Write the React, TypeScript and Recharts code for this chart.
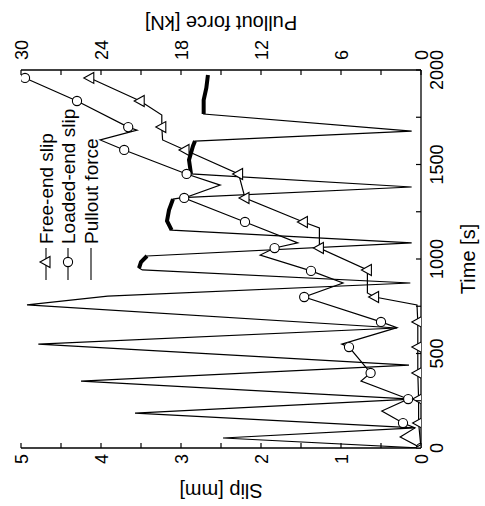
import React from 'react';
import { LineChart, Line, XAxis, YAxis } from 'recharts';

const FONT = '"Liberation Sans", Arial, Helvetica, sans-serif';
const TICK = 5;

// pullout force [kN] against time [s]
const forceTime = [0, 53, 106, 185, 259, 354, 439, 550, 635, 757, 804, 873, 942, 952, 984, 1016, 1085, 1153, 1201, 1259, 1317, 1325, 1381, 1450, 1524, 1598, 1624, 1677, 1767, 1841, 1905, 1973];
const forceKN = [0, 14.85, 0.45, 21.45, 0.7, 25.5, 0.9, 28.7, 1.8, 29.55, 23.5, 0.8, 20.9, 21.15, 21.0, 20.55, 0.7, 18.7, 19.05, 18.9, 18.6, 17.9, 0.7, 17.25, 17.4, 17.1, 16.95, 0.7, 16.3, 16.3, 16.1, 15.98];
// 1 = point on a sliding plateau (noisy in the original, drawn thick)
const forceBand = [0, 0, 0, 0, 0, 0, 0, 0, 0, 0, 0, 0, 0, 1, 1, 1, 0, 1, 1, 1, 1, 0, 0, 1, 1, 1, 1, 0, 1, 1, 1, 1];

// free-end slip [mm]
const freeTime = [0, 132, 259, 397, 534, 667, 757, 799, 820, 942, 1058, 1164, 1196, 1323, 1450, 1577, 1630, 1698, 1762, 1836, 1958];
const freeSlip = [0, 0.03, 0.03, 0.04, 0.04, 0.04, 0.05, 0.58, 0.67, 0.67, 1.27, 1.27, 1.47, 2.2, 2.28, 2.95, 3.23, 3.24, 3.24, 3.51, 4.14];
const freeMark = [1, 1, 1, 1, 1, 1, 0, 1, 0, 1, 1, 0, 1, 1, 1, 1, 0, 1, 0, 1, 1];

// loaded-end slip [mm]
const loadedTime = [0, 58, 106, 132, 196, 259, 354, 397, 534, 550, 637, 667, 799, 873, 937, 1021, 1058, 1085, 1196, 1323, 1391, 1450, 1577, 1630, 1682, 1698, 1836, 1958];
const loadedSlip = [0, 0.26, 0.075, 0.225, 0.49, 0.16, 0.75, 0.63, 0.9, 0.99, 0.3, 0.5, 1.46, 0.975, 1.375, 2.01, 1.83, 1.54, 2.2, 2.96, 2.51, 2.93, 3.71, 4.01, 3.55, 3.66, 4.3, 4.95];
const loadedMark = [1, 0, 0, 1, 0, 1, 0, 1, 1, 0, 0, 1, 1, 0, 1, 0, 1, 0, 1, 1, 0, 1, 1, 0, 0, 1, 1, 1];

const timeTicks = [0, 250, 500, 750, 1000, 1250, 1500, 1750, 2000];
const slipTicks = [0, 0.5, 1, 1.5, 2, 2.5, 3, 3.5, 4, 4.5, 5];
const forceTicks = [0, 3, 6, 9, 12, 15, 18, 21, 24, 27, 30];

const forceData = forceTime.map((t, i) => ({ t, F: forceKN[i], band: forceBand[i] ? forceKN[i] : null }));
const freeData = freeTime.map((t, i) => ({ t, s: freeSlip[i], mark: freeMark[i] }));
const loadedData = loadedTime.map((t, i) => ({ t, s: loadedSlip[i], mark: loadedMark[i] }));

const triPath = (cx: number, cy: number) => `M${cx},${cy - 6} L${cx + 5.5},${cy + 4} L${cx - 5.5},${cy + 4} Z`;

const TriangleDot = (props: any) => {
  const { cx, cy, payload, index } = props;
  if (!payload.mark) return <g key={`tri-${index}`} />;
  return <path key={`tri-${index}`} d={triPath(cx, cy)} fill="#fff" stroke="#000" strokeWidth={1.1} />;
};

const CircleDot = (props: any) => {
  const { cx, cy, payload, index } = props;
  if (!payload.mark) return <g key={`cir-${index}`} />;
  return <circle key={`cir-${index}`} cx={cx} cy={cy} r={4.6} fill="#fff" stroke="#000" strokeWidth={1.1} />;
};

const txt = { fontFamily: FONT, fill: '#000' };

const TimeTick = (props: any) => {
  const { x, y, payload } = props;
  const v = payload.value;
  return (
    <g>
      <line x1={x} x2={x} y1={y} y2={y - TICK} stroke="#000" strokeWidth={1.2} />
      {v % 500 === 0 && (
        <text x={x} y={y + 22} textAnchor="middle" fontSize={18} {...txt}>{v}</text>
      )}
    </g>
  );
};

const TopTick = (props: any) => {
  const { x, y } = props;
  return <line x1={x} x2={x} y1={y} y2={y + TICK} stroke="#000" strokeWidth={1.2} />;
};

const SlipTick = (props: any) => {
  const { x, y, payload } = props;
  const v = payload.value;
  return (
    <g>
      <line x1={x} x2={x + TICK} y1={y} y2={y} stroke="#000" strokeWidth={1.2} />
      {Number.isInteger(v) && (
        <text x={x - 6} y={y + 6.5} textAnchor="end" fontSize={18} {...txt}>{v}</text>
      )}
    </g>
  );
};

const ForceTick = (props: any) => {
  const { x, y, payload } = props;
  const v = payload.value;
  return (
    <g>
      <line x1={x} x2={x - TICK} y1={y} y2={y} stroke="#000" strokeWidth={1.2} />
      {v % 6 === 0 && (
        <text x={x + 10} y={y + 6.5} textAnchor="start" fontSize={18} {...txt}>{v}</text>
      )}
    </g>
  );
};

// legend box, placed inside the plot (upper right of the unrotated figure)
const LegendBox = () => (
  <svg width={230} height={80} style={{ position: 'absolute', left: 226, top: 30 }}>
    <g>
      <line x1={0} x2={32} y1={16} y2={16} stroke="#000" strokeWidth={1.1} />
      <path d={triPath(18, 16)} fill="#fff" stroke="#000" strokeWidth={1.1} />
      <text x={36} y={23} fontSize={19} {...txt}>Free-end slip</text>
    </g>
    <g>
      <line x1={0} x2={32} y1={38} y2={38} stroke="#000" strokeWidth={1.1} />
      <circle cx={18} cy={38} r={4.6} fill="#fff" stroke="#000" strokeWidth={1.1} />
      <text x={36} y={45} fontSize={19} {...txt}>Loaded-end slip</text>
    </g>
    <g>
      <line x1={0} x2={32} y1={61} y2={61} stroke="#000" strokeWidth={1.1} />
      <text x={36} y={68} fontSize={19} {...txt}>Pullout force</text>
    </g>
  </svg>
);

const axisLine = { stroke: '#000', strokeWidth: 1.3 };

export default function App() {
  return (
    <div style={{ position: 'fixed', left: 0, top: 0, width: 485, height: 506, overflow: 'hidden', background: '#fff' }}>
      {/* the original figure is turned 90 degrees counter-clockwise */}
      <div style={{ position: 'absolute', left: 0, top: 0, width: 506, height: 485, transformOrigin: '0 0', transform: 'translate(0px, 506px) rotate(-90deg)' }}>
        <LineChart width={506} height={485} margin={{ top: 21, right: 0, bottom: 0, left: 0 }}>
          <XAxis xAxisId="time" dataKey="t" type="number" domain={[0, 2000]} ticks={timeTicks} interval={0}
            height={64} tickSize={0} tickMargin={0} tickLine={false} axisLine={axisLine} tick={<TimeTick />}
            label={{ value: 'Time [s]', position: 'insideBottom', offset: 10, fontSize: 20, fontFamily: FONT, fill: '#000' }} allowDataOverflow />
          <XAxis xAxisId="top" orientation="top" dataKey="t" type="number" domain={[0, 2000]} ticks={timeTicks} interval={0}
            height={0} tickSize={0} tickMargin={0} tickLine={false} axisLine={axisLine} tick={<TopTick />} allowDataOverflow />
          <YAxis yAxisId="slip" orientation="left" type="number" domain={[0, 5]} ticks={slipTicks} interval={0}
            width={58} tickSize={0} tickMargin={0} tickLine={false} axisLine={axisLine} tick={<SlipTick />} allowDataOverflow
            label={{ value: 'Slip [mm]', angle: -90, position: 'insideLeft', offset: 15, fontSize: 20, fontFamily: FONT, fill: '#000', style: { textAnchor: 'middle' } }} />
          <YAxis yAxisId="force" orientation="right" type="number" domain={[0, 30]} ticks={forceTicks} interval={0}
            width={70} tickSize={0} tickMargin={0} tickLine={false} axisLine={axisLine} tick={<ForceTick />} allowDataOverflow
            label={{ value: 'Pullout force [kN]', angle: -90, position: 'insideRight', offset: 23, fontSize: 20, fontFamily: FONT, fill: '#000', style: { textAnchor: 'middle' } }} />
          <Line data={forceData} xAxisId="time" yAxisId="force" dataKey="F" stroke="#000" strokeWidth={1.2}
            dot={false} activeDot={false} isAnimationActive={false} />
          <Line data={forceData} xAxisId="time" yAxisId="force" dataKey="band" stroke="#000" strokeWidth={4}
            dot={false} activeDot={false} connectNulls={false} isAnimationActive={false} legendType="none" />
          <Line data={loadedData} xAxisId="time" yAxisId="slip" dataKey="s" stroke="#000" strokeWidth={1.2}
            dot={<CircleDot />} activeDot={false} isAnimationActive={false} />
          <Line data={freeData} xAxisId="time" yAxisId="slip" dataKey="s" stroke="#000" strokeWidth={1.2}
            dot={<TriangleDot />} activeDot={false} isAnimationActive={false} />
        </LineChart>
        <LegendBox />
      </div>
    </div>
  );
}
